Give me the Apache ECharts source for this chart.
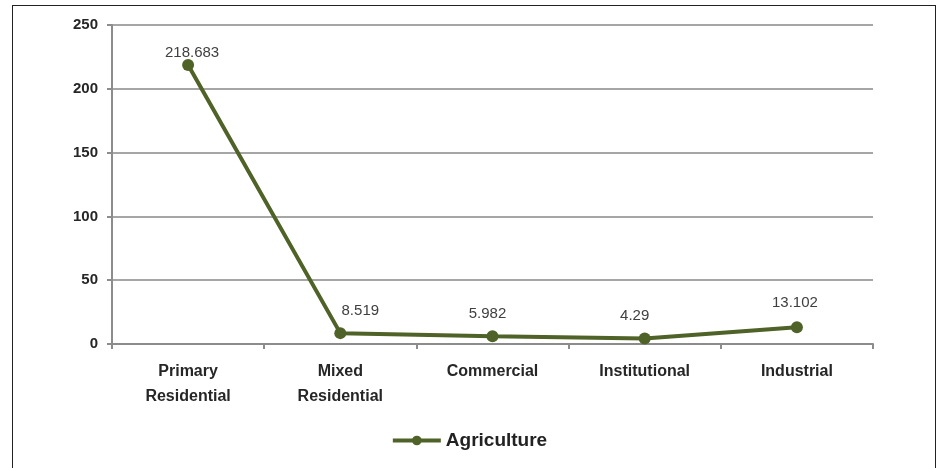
<!DOCTYPE html>
<html>
<head>
<meta charset="utf-8">
<script src="https://cdn.jsdelivr.net/npm/echarts@6/dist/echarts.min.js"></script>
<style>
  html, body { margin: 0; padding: 0; background: #fff; }
  #frame { position: absolute; left: 12px; top: 5px; width: 924px; height: 470px; border: 1px solid #222; box-sizing: border-box; }
  #chart { position: absolute; left: 0; top: 0; width: 938px; height: 468px; }
</style>
</head>
<body>
<div id="frame"></div>
<div id="chart"></div>
<script>
const categories = ['Primary\nResidential', 'Mixed\nResidential', 'Commercial', 'Institutional', 'Industrial'];
const seriesName = 'Agriculture';
const agriculture = [218.683, 8.519, 5.982, 4.29, 13.102];
const yTicks = { min: 0, max: 250, interval: 50 };

// small nudges [dx, dy] so the value labels stay clear of the line
const labelNudge = [[4, 10], [20, 0], [-5, 0], [-10, 0], [-2, -2]];

const chart = echarts.init(document.getElementById('chart'));
const green = '#4f6228';
chart.setOption({
  animation: false,
  textStyle: { fontFamily: 'Liberation Sans, Arial, sans-serif' },
  grid: { left: 112, right: 65, top: 25, bottom: 124 },
  legend: {
    bottom: 13,
    left: 'center',
    itemWidth: 48,
    itemHeight: 12,
    itemGap: 4,
    lineStyle: { width: 4 },
    textStyle: { fontSize: 19, fontWeight: 'bold', color: '#222' },
    data: [seriesName]
  },
  xAxis: {
    type: 'category',
    data: categories,
    boundaryGap: true,
    axisLine: { lineStyle: { color: '#8c8c8c', width: 2 } },
    axisTick: { show: true, length: 5, lineStyle: { color: '#8c8c8c', width: 2 } },
    axisLabel: { fontSize: 16, fontWeight: 'bold', color: '#262626', margin: 15, lineHeight: 25 }
  },
  yAxis: {
    type: 'value',
    min: yTicks.min, max: yTicks.max, interval: yTicks.interval,
    axisLine: { show: true, lineStyle: { color: '#8c8c8c', width: 2 } },
    axisTick: { show: true, length: 5, lineStyle: { color: '#8c8c8c', width: 2 } },
    splitLine: { lineStyle: { color: '#a6a6a6', width: 2 } },
    axisLabel: { fontSize: 15, fontWeight: 'bold', color: '#262626', margin: 14 }
  },
  series: [{
    name: seriesName,
    type: 'line',
    data: agriculture.map((v, i) => ({ value: v, label: { offset: labelNudge[i] } })),
    symbol: 'circle',
    symbolSize: 12,
    lineStyle: { color: green, width: 4 },
    itemStyle: { color: green },
    label: {
      show: true,
      position: 'top',
      distance: 9,
      fontSize: 15,
      color: '#404040',
      formatter: p => String(p.value)
    }
  }]
});
</script>
</body>
</html>
